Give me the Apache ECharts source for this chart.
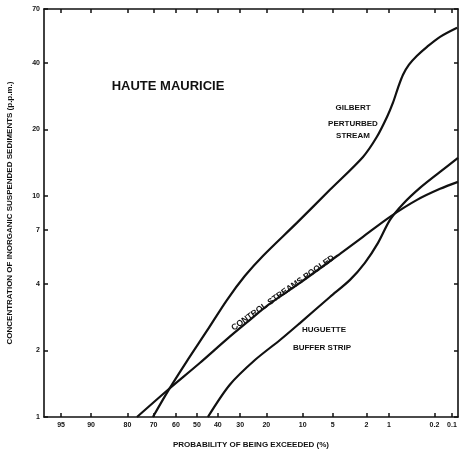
<!DOCTYPE html>
<html><head><meta charset="utf-8">
<script src="https://cdn.jsdelivr.net/npm/echarts@6/dist/echarts.min.js"></script>
<style>html,body{margin:0;padding:0;background:#fff}#c{width:460px;height:457px}</style>
</head><body><div id="c"></div>
<script>
// Probability of being exceeded (%) tick labels
const probTicks = [95, 90, 80, 70, 60, 50, 40, 30, 20, 10, 5, 2, 1, 0.2, 0.1];
const probTickLabels = ['95','90','80','70','60','50','40','30','20','10','5','2','1','0.2','0.1'];
// Concentration tick labels (p.p.m.)
const concTicks = [1, 2, 4, 7, 10, 20, 40, 70];

// Gilbert perturbed stream
const gilbertP = [70.3, 63.7, 54.8, 45.2, 35.8, 28.0, 21.2, 11.3, 5.35, 2.21, 1.46, 1.06, 0.876, 0.742, 0.626, 0.509, 0.383, 0.265, 0.161, 0.081];
const gilbertC = [1.00, 1.31, 1.79, 2.45, 3.38, 4.35, 5.35, 7.55, 10.65, 15.0, 18.5, 22.8, 26.4, 30.8, 35.3, 39.2, 43.0, 47.2, 52.4, 57.6];
// Control streams pooled
const controlP = [76.6, 63.8, 48.6, 35.8, 26.0, 19.8, 10.6, 4.15, 2.21, 0.966, 0.383, 0.161, 0.078];
const controlC = [1.00, 1.325, 1.755, 2.25, 2.75, 3.18, 4.04, 5.47, 6.53, 8.04, 9.59, 10.76, 11.57];
// Huguette buffer strip
const huguetteP = [44.7, 34.5, 24.1, 15.7, 10.6, 5.35, 3.18, 2.09, 1.41, 0.966, 0.626, 0.344, 0.161, 0.078];
const huguetteC = [1.00, 1.40, 1.81, 2.23, 2.66, 3.49, 4.17, 4.98, 6.13, 7.79, 9.20, 10.87, 12.84, 14.86];

function invNorm(p){
  const a=[-3.969683028665376e+01,2.209460984245205e+02,-2.759285104469687e+02,1.383577518672690e+02,-3.066479806614716e+01,2.506628277459239e+00];
  const b=[-5.447609879822406e+01,1.615858368580409e+02,-1.556989798598866e+02,6.680131188771972e+01,-1.328068155288572e+01];
  const c=[-7.784894002430293e-03,-3.223964580411365e-01,-2.400758277161838e+00,-2.549732539343734e+00,4.374664141464968e+00,2.938163982698783e+00];
  const d=[7.784695709041462e-03,3.224671290700398e-01,2.445134137142996e+00,3.754408661907416e+00];
  const pl=0.02425, ph=1-pl; let q,r;
  if(p<pl){q=Math.sqrt(-2*Math.log(p));return (((((c[0]*q+c[1])*q+c[2])*q+c[3])*q+c[4])*q+c[5])/((((d[0]*q+d[1])*q+d[2])*q+d[3])*q+1);}
  if(p<=ph){q=p-0.5;r=q*q;return (((((a[0]*r+a[1])*r+a[2])*r+a[3])*r+a[4])*r+a[5])*q/(((((b[0]*r+b[1])*r+b[2])*r+b[3])*r+b[4])*r+1);}
  q=Math.sqrt(-2*Math.log(1-p));return -(((((c[0]*q+c[1])*q+c[2])*q+c[3])*q+c[4])*q+c[5])/((((d[0]*q+d[1])*q+d[2])*q+d[3])*q+1);
}
// probability-paper scale: exceedance % -> standard normal quantile
function probZ(pct){ return invNorm(1 - pct/100); }

const xTickZ = probTicks.map(probZ);
function xLabel(v){
  let best=0, bd=1e9;
  xTickZ.forEach((z,i)=>{const dd=Math.abs(z-v); if(dd<bd){bd=dd;best=i;}});
  return probTickLabels[best];
}
function pairs(P,C){ return P.map((p,i)=>[probZ(p), C[i]]); }

const FONT = '"Liberation Sans", Arial, sans-serif';
const ink = '#111';
const xMin = probZ(96.8), xMax = probZ(0.078);

const chart = echarts.init(document.getElementById('c'), null, {renderer:'canvas'});
const lineSeries = (data) => ({
  type:'line', data, smooth:0.3, symbol:'none', xAxisIndex:0, yAxisIndex:0,
  lineStyle:{color:ink, width:2.2}, silent:true, animation:false
});
chart.setOption({
  animation:false,
  backgroundColor:'#fff',
  grid:{left:44, right:2, top:9, bottom:40, outerBoundsMode:'none', containLabel:false},
  xAxis:[{
    type:'value', min:xMin, max:xMax, position:'bottom',
    axisLine:{show:true, onZero:false, lineStyle:{color:ink, width:1.6}},
    axisTick:{show:true, inside:true, length:4, customValues:xTickZ, lineStyle:{color:ink, width:1.5}},
    axisLabel:{show:true, customValues:xTickZ, formatter:xLabel, margin:5, color:ink, fontSize:7, fontWeight:'bold', fontFamily:FONT},
    splitLine:{show:false},
    name:'PROBABILITY OF BEING EXCEEDED (%)', nameLocation:'middle', nameGap:24,
    nameTextStyle:{color:ink, fontSize:8, fontWeight:'bold', fontFamily:FONT}
  },{
    type:'value', min:xMin, max:xMax, position:'top',
    axisLine:{show:true, onZero:false, lineStyle:{color:ink, width:1.6}},
    axisTick:{show:true, inside:true, length:4, customValues:xTickZ, lineStyle:{color:ink, width:1.5}},
    axisLabel:{show:false}, splitLine:{show:false}
  }],
  yAxis:[{
    type:'log', logBase:10, min:1, max:70, position:'left',
    axisLine:{show:true, onZero:false, lineStyle:{color:ink, width:1.6}},
    axisTick:{show:true, inside:true, length:4, customValues:concTicks, lineStyle:{color:ink, width:1.5}},
    axisLabel:{show:true, customValues:concTicks, margin:4, color:ink, fontSize:7, fontWeight:'bold', fontFamily:FONT},
    splitLine:{show:false}, minorTick:{show:false},
    name:'CONCENTRATION OF INORGANIC SUSPENDED SEDIMENTS (p.p.m.)', nameLocation:'middle', nameGap:30, nameRotate:90,
    nameTextStyle:{color:ink, fontSize:8, fontWeight:'bold', fontFamily:FONT}
  },{
    type:'log', logBase:10, min:1, max:70, position:'right',
    axisLine:{show:true, onZero:false, lineStyle:{color:ink, width:1.6}},
    axisTick:{show:true, inside:true, length:4, customValues:concTicks, lineStyle:{color:ink, width:1.5}},
    axisLabel:{show:false}, splitLine:{show:false}, minorTick:{show:false}
  }],
  series:[
    lineSeries(pairs(gilbertP, gilbertC)),
    lineSeries(pairs(controlP, controlC)),
    lineSeries(pairs(huguetteP, huguetteC))
  ],
  graphic:[
    {type:'text', x:168, y:86, style:{text:'HAUTE MAURICIE', align:'center', verticalAlign:'middle', fill:ink, font:'bold 13px '+FONT}},
    {type:'text', x:353, y:108, style:{text:'GILBERT', align:'center', verticalAlign:'middle', fill:ink, font:'bold 8px '+FONT}},
    {type:'text', x:353, y:124, style:{text:'PERTURBED', align:'center', verticalAlign:'middle', fill:ink, font:'bold 8px '+FONT}},
    {type:'text', x:353, y:136, style:{text:'STREAM', align:'center', verticalAlign:'middle', fill:ink, font:'bold 8px '+FONT}},
    {type:'text', x:283, y:293, rotation:35.3*Math.PI/180, style:{text:'CONTROL STREAMS POOLED', align:'center', verticalAlign:'middle', fill:ink, font:'bold 8.5px '+FONT}},
    {type:'text', x:324, y:330, style:{text:'HUGUETTE', align:'center', verticalAlign:'middle', fill:ink, font:'bold 8px '+FONT}},
    {type:'text', x:322, y:348, style:{text:'BUFFER STRIP', align:'center', verticalAlign:'middle', fill:ink, font:'bold 8px '+FONT}}
  ]
});
</script></body></html>
